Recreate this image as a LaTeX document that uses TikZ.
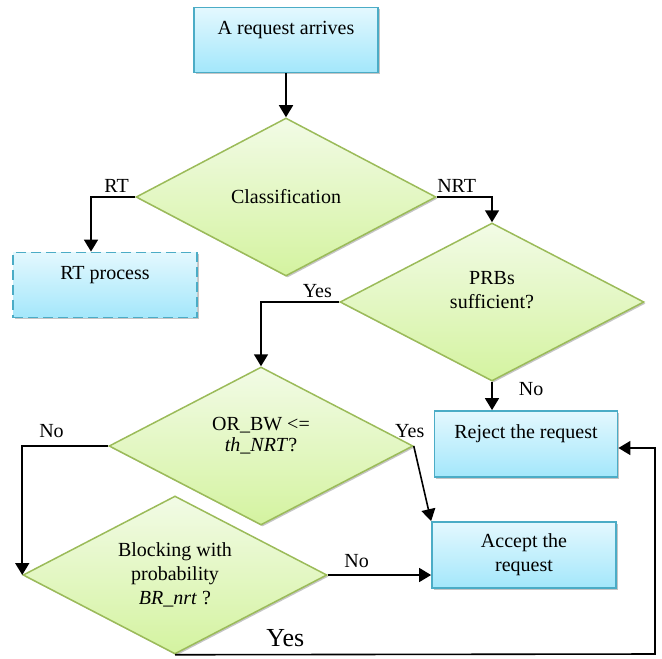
\documentclass[tikz,border=0pt]{standalone}
\usepackage{fontspec}
\setmainfont{Liberation Serif}
\usetikzlibrary{shapes.geometric,arrows.meta,shadows}
\definecolor{boxtop}{HTML}{E4F8FE}
\definecolor{boxbottom}{HTML}{A3E7FB}
\definecolor{boxline}{HTML}{4BACC6}
\definecolor{dectop}{HTML}{F2FBE6}
\definecolor{decbottom}{HTML}{D4F3A0}
\definecolor{decline}{HTML}{9BBB59}

\begin{document}
\begin{tikzpicture}[x=.5pt, y=-.5pt, font=\fontsize{10}{12}\selectfont,
	boxshadow/.style={drop shadow={shadow xshift=.8pt, shadow yshift=-.8pt, fill=black!45}},
	proc/.style={rectangle, draw=boxline, line width=.9pt, top color=boxtop, bottom color=boxbottom, align=center, minimum width=92pt, minimum height=33pt, inner sep=2pt, boxshadow},
	decision/.style={diamond, shape aspect=1.9, draw=decline, line width=.75pt, top color=dectop, bottom color=decbottom, align=center, minimum width=152pt, minimum height=79pt, inner sep=0pt, boxshadow},
	flow/.style={line width=.8pt, -{Triangle[width=7pt,length=6pt]}},
	lbl/.style={inner sep=1pt}]
	\useasboundingbox (0,0) rectangle (662,658);

	% boxes
	\node[proc, minimum height=32.5pt] (arrive) at (286,40) {A request arrives\\\mbox{}};
	\node[proc, minimum height=32.5pt, dash pattern=on 5pt off 2.5pt] (rt) at (105,285) {RT process\\\mbox{}};
	\node[proc, minimum width=91.5pt] (reject) at (526,444) {Reject the request\\\mbox{}};
	\node[proc] (accept) at (524,555) {Accept the\\request};

	% decisions
	\node[decision, minimum width=150pt] (classif) at (286,197) {Classification};
	\node[decision] (prbs) at (492,302) {PRBs\\sufficient?\\\mbox{}};
	\node[decision] (orbw) at (261,446) {OR\_BW <=\\[-1.5pt]\textit{th\_NRT}?\\\mbox{}};
	\node[decision] (block) at (175,575) {Blocking with\\probability\\\textit{BR\_nrt} ?};

	\coordinate (loop) at (655,654);

	% connectors
	\draw[flow] (arrive) -- (classif);
	\draw[flow] (classif.west) -| node[lbl, above=.7pt, pos=.21] (lrt) {RT} ([xshift=-7pt]rt.north);
	\draw[flow] (classif.east) -| node[lbl, above=.7pt, pos=.18] (lnrt) {NRT} (prbs.north);
	\draw[flow] (prbs.west) -| node[lbl, above=.7pt, pos=.14] (lyesprbs) {Yes} (orbw.north);
	\draw[flow] (prbs.south) -- node[lbl, right=12pt, pos=.27] (lnoprbs) {No} (prbs.south |- reject.north);
	\draw[flow] (orbw.west) -| node[lbl, above=3pt, pos=.33] (lnoorbw) {No} (block.west);
	\draw[flow] (orbw.east) -- node[lbl, at start, above=3pt, xshift=-2pt] (lyesorbw) {Yes} (accept.north west);
	\draw[flow] (block.east) -- node[lbl, above=2.5pt, pos=.28] (lnoblock) {No} (block.east -| accept.west);
	\draw[flow] (block.south) -- node[lbl, above=2.7pt, pos=.23, font=\fontsize{13}{15}\selectfont] (lyesblock) {Yes} (loop) |- ([yshift=-2pt]reject.east);
\end{tikzpicture}
\end{document}
